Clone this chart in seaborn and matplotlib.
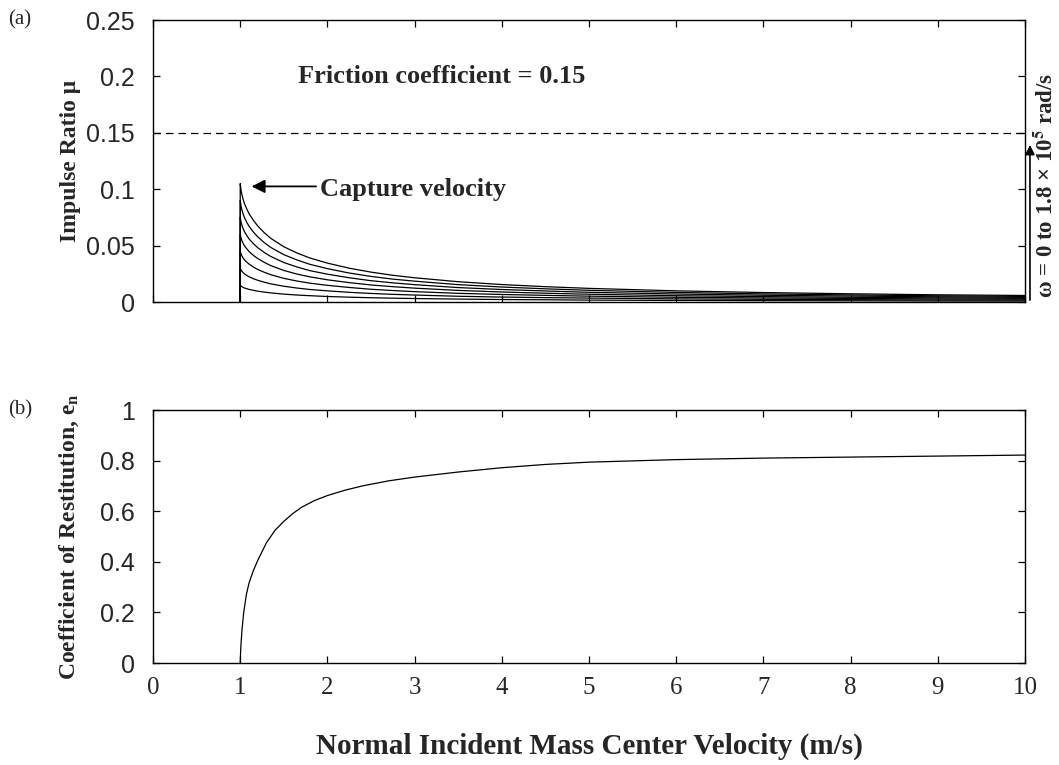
import numpy as np
import pandas as pd
import matplotlib
matplotlib.use("Agg")
import matplotlib.pyplot as plt
import seaborn as sns

# ---- data -------------------------------------------------------------
# normal incident velocity grid (m/s) for the impulse-ratio family
v_mu = [1.0, 1.01, 1.02, 1.035, 1.05, 1.075, 1.1, 1.15, 1.2, 1.275, 1.35,
        1.5, 1.65, 1.8, 2.0, 2.25, 2.5, 2.75, 3.0, 3.5, 4.0, 4.5, 5.0,
        6.0, 7.0, 8.0, 9.0, 10.0]

# impulse ratio for increasing spin rate (omega = 0 ... 1.8e5 rad/s)
mu_w1 = [0.015, 0.0141, 0.0136, 0.0129, 0.0124, 0.0118, 0.0112, 0.0104, 0.0096,
         0.0088, 0.0081, 0.0070, 0.0062, 0.0056, 0.0049, 0.0043, 0.0038, 0.0034,
         0.0031, 0.0026, 0.0022, 0.0020, 0.0017, 0.0014, 0.0012, 0.0011, 0.0009,
         0.0008]
mu_w2 = [0.030, 0.0283, 0.0272, 0.0259, 0.0249, 0.0236, 0.0224, 0.0207, 0.0193,
         0.0176, 0.0161, 0.0140, 0.0124, 0.0111, 0.0099, 0.0086, 0.0076, 0.0068,
         0.0062, 0.0051, 0.0044, 0.0039, 0.0035, 0.0028, 0.0024, 0.0021, 0.0018,
         0.0017]
mu_w3 = [0.045, 0.0424, 0.0407, 0.0388, 0.0373, 0.0354, 0.0337, 0.0311, 0.0289,
         0.0264, 0.0242, 0.0210, 0.0186, 0.0167, 0.0148, 0.0129, 0.0113, 0.0102,
         0.0092, 0.0077, 0.0067, 0.0059, 0.0052, 0.0042, 0.0036, 0.0032, 0.0027,
         0.0025]
mu_w4 = [0.060, 0.0566, 0.0543, 0.0517, 0.0497, 0.0472, 0.0449, 0.0414, 0.0386,
         0.0352, 0.0323, 0.0280, 0.0248, 0.0223, 0.0197, 0.0172, 0.0151, 0.0136,
         0.0123, 0.0103, 0.0089, 0.0078, 0.0069, 0.0056, 0.0048, 0.0042, 0.0037,
         0.0033]
mu_w5 = [0.075, 0.0707, 0.0679, 0.0647, 0.0622, 0.0590, 0.0561, 0.0518, 0.0482,
         0.0440, 0.0404, 0.0350, 0.0311, 0.0278, 0.0247, 0.0215, 0.0189, 0.0170,
         0.0154, 0.0128, 0.0111, 0.0098, 0.0086, 0.0071, 0.0060, 0.0053, 0.0046,
         0.0041]
mu_w6 = [0.090, 0.0849, 0.0815, 0.0776, 0.0746, 0.0707, 0.0673, 0.0621, 0.0579,
         0.0527, 0.0484, 0.0420, 0.0373, 0.0334, 0.0296, 0.0257, 0.0227, 0.0203,
         0.0185, 0.0154, 0.0133, 0.0117, 0.0104, 0.0085, 0.0072, 0.0063, 0.0055,
         0.0050]
mu_w7 = [0.105, 0.099, 0.095, 0.0905, 0.087, 0.0825, 0.0785, 0.0725, 0.0675,
         0.0615, 0.0565, 0.049, 0.0435, 0.039, 0.0345, 0.030, 0.0265, 0.0237,
         0.0215, 0.018, 0.0155, 0.0136, 0.0121, 0.0099, 0.0084, 0.0073, 0.0064,
         0.0058]

friction_coef = 0.15
capture_velocity = 1.0

# coefficient of restitution vs. normal incident velocity
v_e = [1.0, 1.005, 1.01, 1.02, 1.04, 1.07, 1.1, 1.15, 1.2, 1.3, 1.4, 1.5,
       1.6, 1.7, 1.85, 2.0, 2.2, 2.4, 2.7, 3.0, 3.5, 4.0, 4.5, 5.0, 6.0,
       7.0, 8.0, 9.0, 10.0]
e_n = [0.0, 0.05, 0.08, 0.13, 0.20, 0.27, 0.315, 0.365, 0.405, 0.475, 0.525,
       0.56, 0.59, 0.615, 0.642, 0.662, 0.683, 0.70, 0.72, 0.735, 0.755,
       0.772, 0.785, 0.794, 0.804, 0.81, 0.814, 0.818, 0.822]

x_ticks = [0, 1, 2, 3, 4, 5, 6, 7, 8, 9, 10]
mu_ticks = [0, 0.05, 0.1, 0.15, 0.2, 0.25]
mu_tick_labels = ["0", "0.05", "0.1", "0.15", "0.2", "0.25"]
e_ticks = [0, 0.2, 0.4, 0.6, 0.8, 1.0]
e_tick_labels = ["0", "0.2", "0.4", "0.6", "0.8", "1"]

# ---- style ------------------------------------------------------------
sns.set_theme(style="ticks")
plt.rcParams["font.family"] = ["Liberation Serif", "DejaVu Serif"]
plt.rcParams["mathtext.fontset"] = "stix"

SERIF = "Liberation Serif"
SANS = "Liberation Sans"

fig = plt.figure(figsize=(10.59, 7.65), dpi=100)
ax_a = fig.add_axes([0.1445, 0.6052, 0.8234, 0.3686])
ax_b = fig.add_axes([0.1445, 0.1333, 0.8234, 0.3307])

for ax in (ax_a, ax_b):
    for sp in ax.spines.values():
        sp.set_linewidth(1.0)
        sp.set_color("black")
    ax.tick_params(direction="in", length=5, width=0.9, color="black",
                   top=True, right=True)
    ax.set_xlim(0, 10)
    ax.set_xticks(x_ticks)

# ---- (a) impulse ratio ------------------------------------------------
curves = [mu_w1, mu_w2, mu_w3, mu_w4, mu_w5, mu_w6, mu_w7]
frames = []
for k, vals in enumerate(curves):
    # each curve rises from zero at the capture velocity
    xs = [capture_velocity] + v_mu
    ys = [0.0] + vals
    frames.append(pd.DataFrame({"v": xs, "mu": ys, "omega": k}))
df_mu = pd.concat(frames, ignore_index=True)

sns.lineplot(data=df_mu, x="v", y="mu", units="omega", estimator=None,
             color="black", linewidth=0.9, sort=False, ax=ax_a, legend=False)
ax_a.axhline(friction_coef, color="black", linewidth=0.9,
             linestyle=(0, (6, 4)))

ax_a.set_ylim(0, 0.25)
ax_a.set_yticks(mu_ticks)
ax_a.set_yticklabels(mu_tick_labels, fontfamily=SANS, fontsize=18)
ax_a.tick_params(axis="y", pad=13)
ax_a.set_xticklabels([])
ax_a.set_xlabel("")
ax_a.set_ylabel("Impulse Ratio μ", fontfamily=SERIF, fontweight="bold",
                fontsize=17, labelpad=4)

ax_a.text(1.66, 0.2, "Friction coefficient = 0.15", fontfamily=SERIF,
          fontweight="bold", fontsize=19, ha="left", va="center")
ax_a.annotate("", xy=(1.13, 0.1025), xytext=(1.87, 0.1025),
              arrowprops=dict(arrowstyle="-|>", color="black", lw=1.3,
                              mutation_scale=20, shrinkA=0, shrinkB=0))
ax_a.text(1.92, 0.1, "Capture velocity", fontfamily=SERIF,
          fontweight="bold", fontsize=19, ha="left", va="center")

# spin-rate direction arrow on the right
ax_a.annotate("", xy=(1.0057, 0.557), xytext=(1.0057, 0.007),
              xycoords="axes fraction", textcoords="axes fraction",
              arrowprops=dict(arrowstyle="-|>", color="black", lw=1.2,
                              mutation_scale=14, shrinkA=0, shrinkB=0),
              annotation_clip=False)
ax_a.text(1.025, 0.415, r"ω = 0 to 1.8 × 10$^{\mathbf{5}}$ rad/s",
          transform=ax_a.transAxes, rotation=90, fontfamily=SERIF,
          fontweight="bold", fontsize=16.5, ha="center", va="center")

fig.text(8 / 1059, 1 - 20 / 765, "(a)", fontfamily=SERIF, fontsize=15,
         ha="left", va="center")

# ---- (b) coefficient of restitution -----------------------------------
df_e = pd.DataFrame({"v": v_e, "e": e_n})
sns.lineplot(data=df_e, x="v", y="e", color="black", linewidth=0.9,
             sort=False, ax=ax_b)

ax_b.set_ylim(0, 1)
ax_b.set_yticks(e_ticks)
ax_b.set_yticklabels(e_tick_labels, fontfamily=SANS, fontsize=18)
ax_b.tick_params(axis="y", pad=13)
ax_b.set_xticklabels([str(t) for t in x_ticks], fontfamily=SERIF, fontsize=18)
ax_b.tick_params(axis="x", pad=10)
ax_b.set_ylabel(r"Coefficient of Restitution, e$_{\mathbf{n}}$",
                fontfamily=SERIF, fontweight="bold", fontsize=17, labelpad=14)
ax_b.set_xlabel("Normal Incident Mass Center Velocity (m/s)",
                fontfamily=SERIF, fontweight="bold", fontsize=21, labelpad=24)

fig.text(8 / 1059, 1 - 410 / 765, "(b)", fontfamily=SERIF, fontsize=15,
         ha="left", va="center")

fig.savefig("out.png", dpi=100, facecolor="white")
